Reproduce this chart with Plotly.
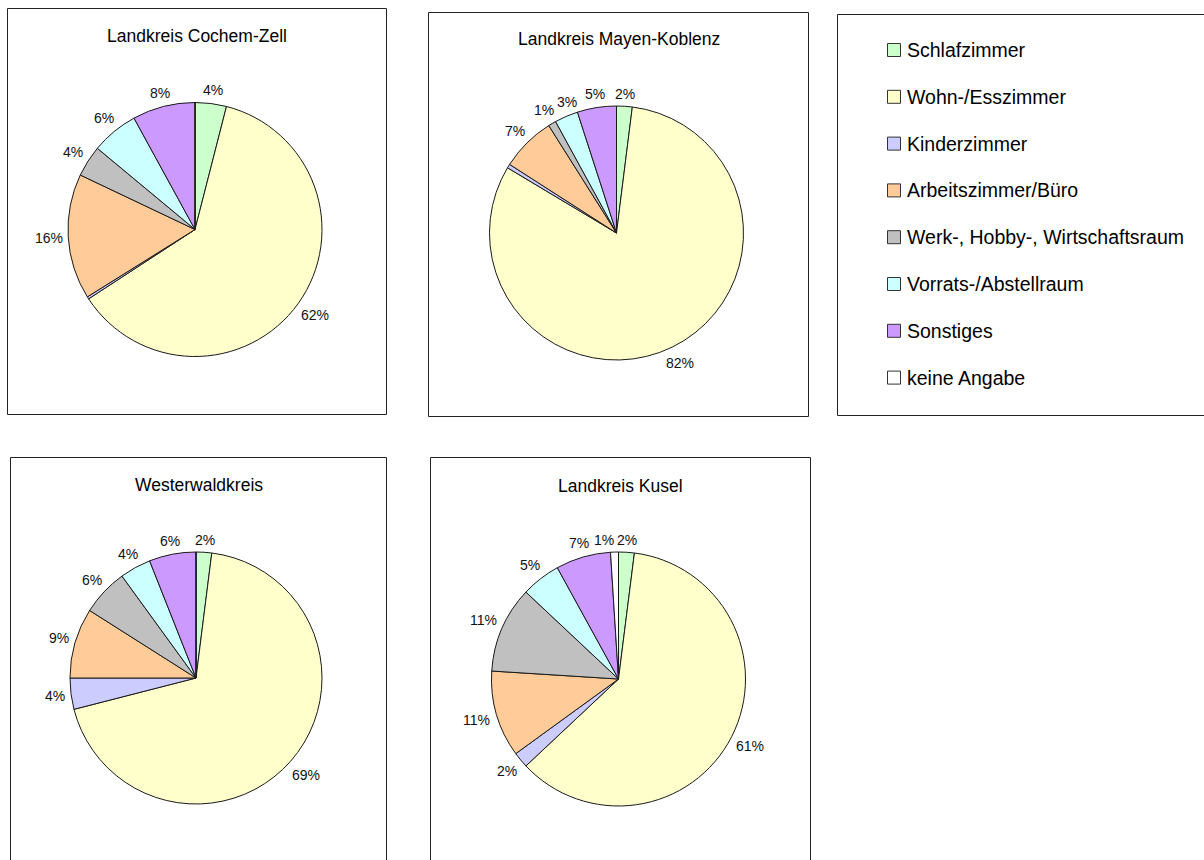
import math
import plotly.graph_objects as go

# Room categories shared by all four districts
categories = [
    "Schlafzimmer",
    "Wohn-/Esszimmer",
    "Kinderzimmer",
    "Arbeitszimmer/Büro",
    "Werk-, Hobby-, Wirtschaftsraum",
    "Vorrats-/Abstellraum",
    "Sonstiges",
    "keine Angabe",
]
colors = ["#CCFFCC", "#FFFFCC", "#CCCCFF", "#FFCC99",
          "#C0C0C0", "#CCFFFF", "#CC99FF", "#FFFFFF"]

# Shares in percent per district
cochem_zell = [4, 62, 0.3, 16, 4, 6, 8, 0]
mayen_koblenz = [2, 82, 0.5, 7, 1, 3, 5, 0]
westerwaldkreis = [2, 69, 4, 9, 6, 4, 6, 0]
kusel = [2, 61, 2, 11, 11, 5, 7, 1]

W, H = 1204, 860
FONT = "Arial, 'Liberation Sans', sans-serif"
LABEL_SIZE = 14
LABEL_GAP = 5      # space between pie rim and label box
LABEL_PAD = 3      # minimum space between neighbouring labels
LABEL_HH = 7       # half height of a label box

# (title, values, pie centre px, radius px, frame box px, title y px)
panels = [
    ("Landkreis Cochem-Zell", cochem_zell, (195, 229.5), 127, (7.5, 8.5, 386.5, 414.5), 36),
    ("Landkreis Mayen-Koblenz", mayen_koblenz, (616.5, 233), 127, (428.5, 12.5, 808.5, 416.5), 39),
    ("Westerwaldkreis", westerwaldkreis, (196, 678), 126, (10.5, 457.5, 386.5, 870), 485),
    ("Landkreis Kusel", kusel, (618.5, 679), 127, (430.5, 457.5, 810.5, 870), 486),
]


def px_x(x):
    return x / W


def px_y(y):
    return 1 - y / H


def outside_labels(vals, cx, cy, r):
    """Percent labels just outside each slice (clockwise from 12 o'clock)."""
    total = sum(vals)
    placed, out = [], []
    cum = 0.0
    for v in vals:
        start = cum
        cum += v
        if v < 1:
            continue
        ang = (start + v / 2) / total * 2 * math.pi
        s, c = math.sin(ang), math.cos(ang)
        txt = f"{v:.0f}%"
        hw = (0.556 * (len(txt) - 1) + 0.889) * LABEL_SIZE / 2
        hh = LABEL_HH
        d = r + LABEL_GAP + abs(s) * hw + abs(c) * hh
        x, y = cx + d * s, cy - d * c
        for (qx, qy, qhw, qhh) in placed:
            ox = hw + qhw + LABEL_PAD - abs(x - qx)
            oy = hh + qhh + LABEL_PAD - abs(y - qy)
            if ox > 0 and oy > 0:
                if ox <= oy:
                    x += ox if x >= qx else -ox
                else:
                    y += oy if y >= qy else -oy
        placed.append((x, y, hw, hh))
        out.append((txt, x, y))
    return out


fig = go.Figure()
shapes = []
annotations = []

for title, vals, (cx, cy), r, (bx0, by0, bx1, by1), ty in panels:
    fig.add_trace(go.Pie(
        labels=categories,
        values=vals,
        textinfo="none",
        marker=dict(colors=colors, line=dict(color="#1a1a1a", width=1)),
        sort=False,
        direction="clockwise",
        rotation=0,
        showlegend=False,
        hoverinfo="label+percent",
        domain=dict(
            x=[px_x(cx - r), px_x(cx + r)],
            y=[px_y(cy + r), px_y(cy - r)],
        ),
    ))
    for txt, lx, ly in outside_labels(vals, cx, cy, r):
        annotations.append(dict(
            text=txt, xref="paper", yref="paper",
            x=px_x(lx), y=px_y(ly), xanchor="center", yanchor="middle",
            showarrow=False,
            font=dict(family=FONT, size=LABEL_SIZE, color="#111111"),
        ))
    shapes.append(dict(
        type="rect", xref="paper", yref="paper",
        x0=px_x(bx0), x1=px_x(bx1), y0=px_y(by1), y1=px_y(by0),
        line=dict(color="#222222", width=1), fillcolor="rgba(0,0,0,0)",
    ))
    annotations.append(dict(
        text=title, xref="paper", yref="paper",
        x=px_x((bx0 + bx1) / 2), y=px_y(ty),
        xanchor="center", yanchor="middle", showarrow=False,
        font=dict(family=FONT, size=17.5, color="#000000"),
    ))

# Legend panel
shapes.append(dict(
    type="rect", xref="paper", yref="paper",
    x0=px_x(837.5), x1=px_x(1210), y0=px_y(415.5), y1=px_y(14.5),
    line=dict(color="#222222", width=1), fillcolor="rgba(0,0,0,0)",
))
leg_top, leg_step = 50, 46.8
for i, (name, col) in enumerate(zip(categories, colors)):
    yc = leg_top + i * leg_step
    shapes.append(dict(
        type="rect", xref="paper", yref="paper",
        x0=px_x(887.5), x1=px_x(900.5), y0=px_y(yc + 6.5), y1=px_y(yc - 6.5),
        line=dict(color="#333333", width=1), fillcolor=col,
    ))
    annotations.append(dict(
        text=name, xref="paper", yref="paper",
        x=px_x(905), y=px_y(yc),
        xanchor="left", yanchor="middle", showarrow=False,
        font=dict(family=FONT, size=19.5, color="#000000"),
    ))

fig.update_layout(
    width=W, height=H,
    margin=dict(l=0, r=0, t=0, b=0),
    paper_bgcolor="#FFFFFF",
    plot_bgcolor="#FFFFFF",
    shapes=shapes,
    annotations=annotations,
)

fig.write_html("out.html")
